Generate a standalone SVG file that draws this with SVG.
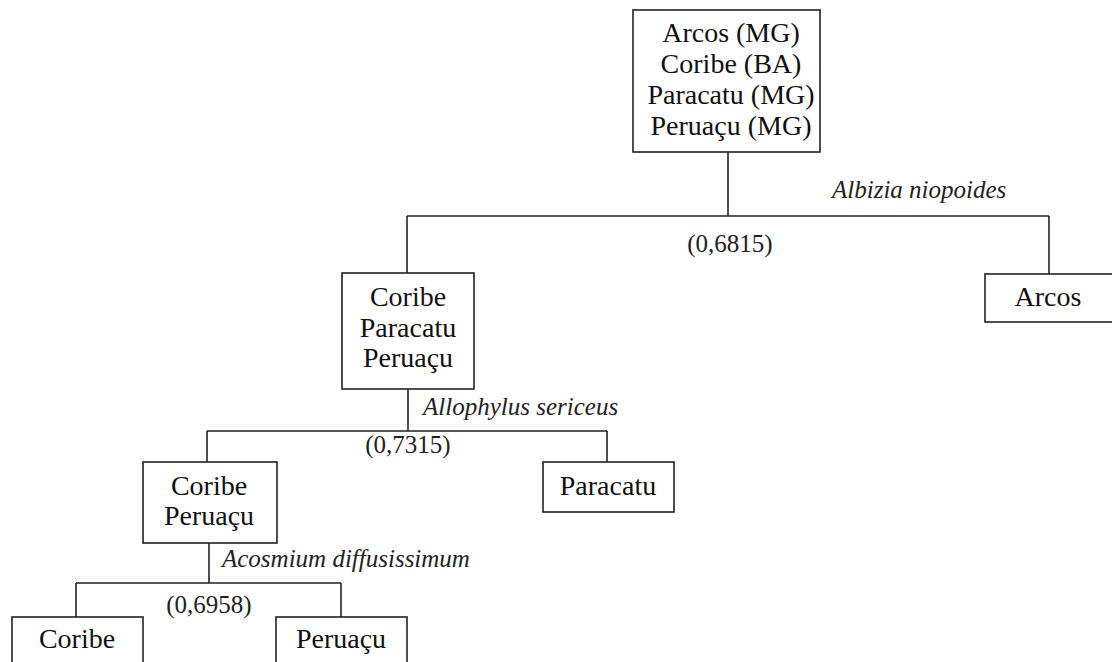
<svg xmlns="http://www.w3.org/2000/svg" width="1112" height="662" viewBox="0 0 1112 662">
<style>
.box{fill:#fff;stroke:#222;stroke-width:1.6}
.t{font-size:28px;fill:#111;text-anchor:middle}
.sp{font-size:25px;font-style:italic;fill:#222;text-anchor:start}
.v{font-size:25px;fill:#222;text-anchor:middle}
.c{fill:none;stroke:#222;stroke-width:1.6}
</style>
<g id="connectors">
<path class="c" d="M728 152V216M407 216H1049M407 216V273M1049 216V274"/>
<path class="c" d="M408 389V431M207 431H607M207 431V462M607 431V462"/>
<path class="c" d="M209 543V583M76 583H341M76 583V617M341 583V617"/>
</g>
<g id="node-root">
<rect class="box" x="633" y="10" width="187" height="142"/>
<text class="t" font-family="serif" x="731" y="42">Arcos (MG)</text>
<text class="t" font-family="serif" x="731" y="73">Coribe (BA)</text>
<text class="t" font-family="serif" x="731" y="104">Paracatu (MG)</text>
<text class="t" font-family="serif" x="731" y="135">Peruaçu (MG)</text>
</g>
<g id="node-cpp">
<rect class="box" x="342" y="273" width="132" height="116"/>
<text class="t" font-family="serif" x="408" y="306">Coribe</text>
<text class="t" font-family="serif" x="408" y="337">Paracatu</text>
<text class="t" font-family="serif" x="408" y="367">Peruaçu</text>
</g>
<g id="node-arcos">
<rect class="box" x="985" y="274" width="130" height="48"/>
<text class="t" font-family="serif" x="1048" y="306">Arcos</text>
</g>
<g id="node-cp">
<rect class="box" x="143" y="462" width="134" height="81"/>
<text class="t" font-family="serif" x="209" y="495">Coribe</text>
<text class="t" font-family="serif" x="209" y="525">Peruaçu</text>
</g>
<g id="node-paracatu">
<rect class="box" x="543" y="462" width="131" height="50"/>
<text class="t" font-family="serif" x="608" y="495">Paracatu</text>
</g>
<g id="node-coribe">
<rect class="box" x="12" y="617" width="131" height="60"/>
<text class="t" font-family="serif" x="77" y="648">Coribe</text>
</g>
<g id="node-peruacu">
<rect class="box" x="276" y="617" width="131" height="60"/>
<text class="t" font-family="serif" x="341" y="648">Peruaçu</text>
</g>
<g id="labels">
<text class="sp" font-family="serif" x="832" y="198">Albizia niopoides</text>
<text class="v" font-family="serif" x="730" y="252">(0,6815)</text>
<text class="sp" font-family="serif" x="423" y="415">Allophylus sericeus</text>
<text class="v" font-family="serif" x="408" y="453">(0,7315)</text>
<text class="sp" font-family="serif" x="222" y="567">Acosmium diffusissimum</text>
<text class="v" font-family="serif" x="209" y="613">(0,6958)</text>
</g>
</svg>
